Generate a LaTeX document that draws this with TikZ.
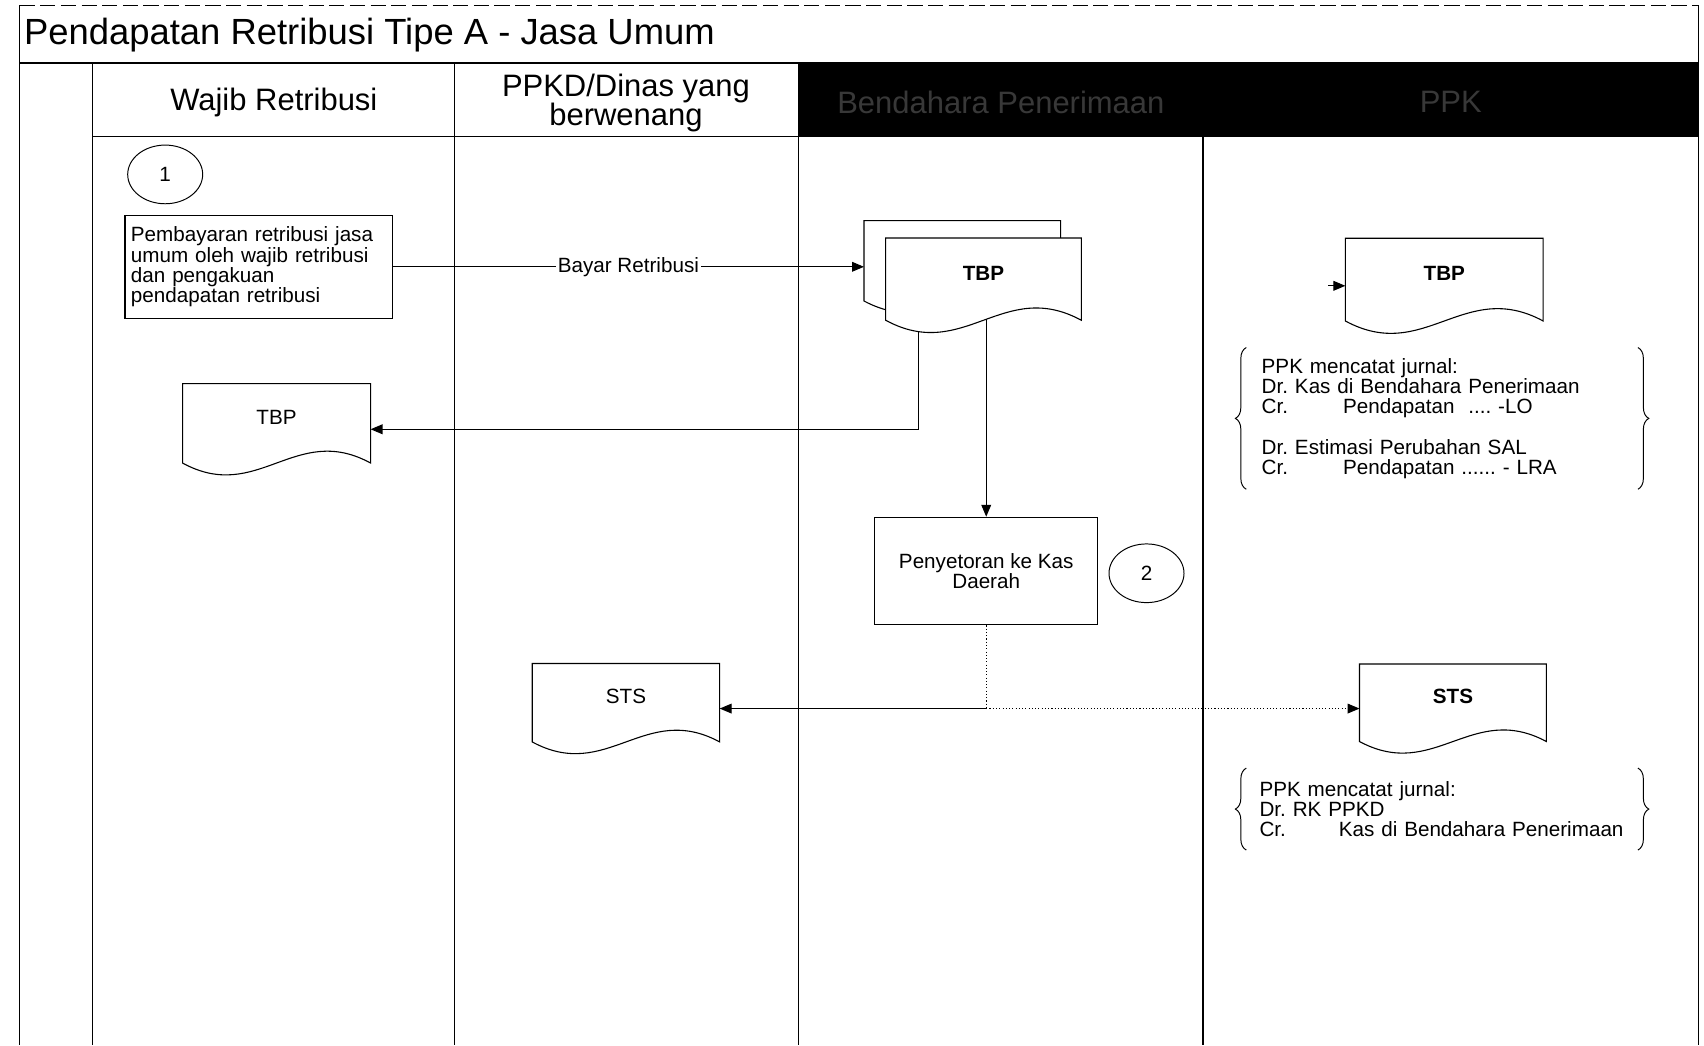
\documentclass[tikz,border=0pt]{standalone}
\usepackage{fontspec}
\setmainfont{Liberation Sans}
\usetikzlibrary{arrows.meta,shapes.geometric,decorations.pathreplacing,calc}
\pgfdeclarelayer{back}
\pgfdeclarelayer{bg}
\pgfdeclarelayer{mid}
\pgfsetlayers{back,bg,mid,main}
\frenchspacing
\tikzset{
  frame/.style={line width=1pt},
  arr/.style={line width=1pt,-{Triangle[length=11pt,width=9pt]}},
  small/.style={font=\fontsize{19}{18.6}\selectfont},
  docnode/.style={rectangle,draw=none,inner sep=0pt,outer sep=0pt,text depth=22pt,small},
  docshape/.style={draw,fill=white,line width=1pt},
  procbox/.style={rectangle,draw,fill=white,line width=1pt,small},
  stepnum/.style={ellipse,draw,fill=white,line width=0.9pt,inner sep=0pt,minimum width=69pt,minimum height=54pt,small},
  journal/.style={rectangle,draw=none,align=left,small,minimum width=360pt,inner ysep=0pt},
  bracedeco/.style={decorate,decoration={brace,amplitude=10pt},line width=0.9pt},
  lanehead/.style={font=\fontsize{28.5}{27}\selectfont,align=center},
}
\newcommand\docoutline[1]{%
  \begin{pgfonlayer}{mid}
  \path[docshape] let \p1=(#1.north west),\p2=(#1.south east),\n1={\y1-\y2},\n2={\x2-\x1} in
    (\x1,\y1) -- (\x2,\y1) -- (\x2,{\y2+0.13*\n1})
    .. controls ({\x1+0.6*\n2},{\y2+0.58*\n1}) and ({\x1+0.4*\n2},{\y2-0.32*\n1}) ..
    (\x1,{\y2+0.13*\n1}) -- cycle;
  \end{pgfonlayer}}
\begin{document}
\begin{tikzpicture}[x=1pt,y=-1pt]
\useasboundingbox (0,0) rectangle (1568,962);
\begin{pgfonlayer}{back}
  \fill[white] (0,0) rectangle (1568,962);
\end{pgfonlayer}

% frame and lanes
\begin{pgfonlayer}{bg}
  \draw[frame,dash pattern=on 14pt off 5pt,line width=0.8pt] (18,5) -- (1563,5);
  \draw[frame] (18,5) -- (18,962);
  \draw[frame] (1563,5) -- (1563,962);
  \fill[black] (735,58) rectangle (1563,126);
  \draw[line width=2.2pt] (18,58) -- (1563,58);
  \draw[frame] (85,126) -- (1563,126);
  \draw[frame] (85,58) -- (85,962);
  \draw[frame] (418,58) -- (418,962);
  \draw[frame] (735,58) -- (735,962);
  \draw[frame] (1107,126) -- (1107,962);
\end{pgfonlayer}

% title and lane headers
\node[anchor=west,inner sep=0pt,font=\fontsize{33.5}{36}\selectfont] (title) at (22,32) {Pendapatan Retribusi Tipe A - Jasa Umum};
\node[lanehead] (h1) at (252,94) {Wajib Retribusi};
\node[lanehead] (h2) at (576,94.5) {PPKD/Dinas yang\\berwenang};
\node[lanehead,text=white!22!black] (h3) at (921,94) {Bendahara Penerimaan};
\node[lanehead,text=white!22!black] (h4) at (1335,94) {PPK};

% step markers
\node[stepnum] (n1) at (152,160.5) {1};
\node[stepnum] (n2) at (1055,527.5) {2};

% process boxes
\node[procbox,minimum width=246pt,minimum height=95pt,inner xsep=5.4pt,text width=235pt,align=left] (box1) at (238,245.5)
  {Pembayaran retribusi jasa\\umum oleh wajib retribusi\\dan pengakuan\\pendapatan retribusi};
\node[procbox,minimum width=205pt,minimum height=99pt,align=center] (box2) at (907.5,525.5)
  {Penyetoran ke Kas\\Daerah};

% documents
\node[docnode,minimum width=181pt,minimum height=85pt] (tbpB) at (885.5,245.5) {};
\docoutline{tbpB}
\node[docnode,minimum width=180pt,minimum height=87pt,font=\fontsize{19}{18.6}\selectfont\bfseries] (tbpA) at (905,262.5) {TBP};
\docoutline{tbpA}
\node[docnode,minimum width=173pt,minimum height=84pt] (tbp1) at (254.5,395) {TBP};
\docoutline{tbp1}
\node[docnode,minimum width=182pt,minimum height=87.5pt,font=\fontsize{19}{18.6}\selectfont\bfseries] (tbp4) at (1329,263) {TBP};
\docoutline{tbp4}
\node[docnode,minimum width=172.5pt,minimum height=83pt] (sts2) at (576,652) {STS};
\docoutline{sts2}
\node[docnode,minimum width=172pt,minimum height=82pt,font=\fontsize{19}{18.6}\selectfont\bfseries] (sts4) at (1337,652) {STS};
\docoutline{sts4}

% journal entries
\node[journal,minimum height=130pt,inner xsep=14pt,text width=332pt] (j1) at (1327,385)
  {PPK mencatat jurnal:\\
   Dr. Kas di Bendahara Penerimaan\\
   \makebox[75pt][l]{Cr.}Pendapatan\ \ .... -LO\\[18.6pt]
   Dr. Estimasi Perubahan SAL\\
   \makebox[75pt][l]{Cr.}Pendapatan ...... - LRA};
\draw[bracedeco] (j1.south west) -- (j1.north west);
\draw[bracedeco] (j1.north east) -- (j1.south east);
\node[journal,minimum height=75pt,inner xsep=12pt,text width=336pt] (j2) at (1327,744.5)
  {PPK mencatat jurnal:\\
   Dr. RK PPKD\\
   \makebox[73pt][l]{Cr.}Kas di Bendahara Penerimaan};
\draw[bracedeco] (j2.south west) -- (j2.north west);
\draw[bracedeco] (j2.north east) -- (j2.south east);

% connectors
\coordinate (jn) at (box2.south |- sts2.east);
\coordinate (t4in) at (1222,263);
\begin{pgfonlayer}{bg}
  \draw[arr] (box1.east) -- node[fill=white,small,inner sep=2pt] (lbl) {Bayar Retribusi} (tbpB.west);
  \draw[arr] ([xshift=-60pt]tbpA.center) |- (tbp1.east);
  \draw[arr] (box2.north |- tbpA.center) -- (box2.north);
  \draw[line width=1pt,dotted] (box2.south) -- (jn);
  \draw[arr] (jn) -- (sts2.east);
  \draw[arr,dotted] (jn) -- (sts4.west);
  \draw[arr] (t4in) -- (tbp4.west);
\end{pgfonlayer}
\end{tikzpicture}
\end{document}
